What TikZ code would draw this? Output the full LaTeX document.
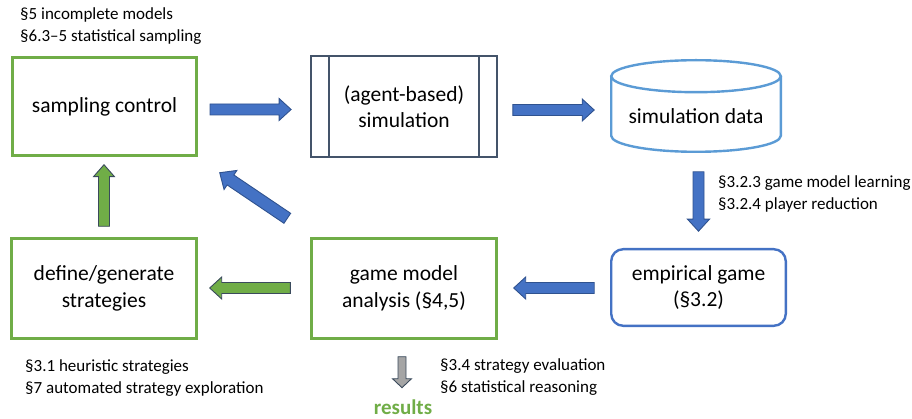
\documentclass[tikz,border=0pt]{standalone}
\usepackage{fontspec}
\setmainfont{Carlito}
\usetikzlibrary{calc}
\definecolor{bxgreen}{HTML}{70AD47}
\definecolor{bxslate}{HTML}{44546A}
\definecolor{bxlblue}{HTML}{5B9BD5}
\definecolor{bxblue}{HTML}{4472C4}
\definecolor{arblue}{HTML}{2F528F}
\definecolor{ardark}{HTML}{3A4A5C}
\definecolor{argrey}{HTML}{A5A5A5}
\newcommand\blockarr[6]{% style, from, to, shaft half, head half, head length
  \coordinate (ba-n) at ($(#3)!#6!(#2)$);
  \draw[#1] ($(#2)!#4!90:(#3)$) -- ($(ba-n)!#4!90:(#3)$) -- ($(ba-n)!#5!90:(#3)$) -- (#3)
    -- ($(ba-n)!#5!-90:(#3)$) -- ($(ba-n)!#4!-90:(#3)$) -- ($(#2)!#4!-90:(#3)$) -- cycle;
}
\tikzset{
  mainfont/.style={font=\fontsize{21.5}{26.5}\selectfont},
  smallfont/.style={font=\fontsize{17}{22}\selectfont},
  gbox/.style={draw=bxgreen, line width=2.6pt, outer sep=0pt, inner sep=0pt,
    minimum width=185.4pt, minimum height=100.4pt, align=center, mainfont},
  simbox/.style={draw=bxslate, line width=2.2pt, outer sep=0pt, inner sep=0pt,
    minimum width=185.8pt, minimum height=100.8pt, align=center, mainfont},
  empbox/.style={draw=bxblue, line width=2.4pt, outer sep=0pt, inner sep=0pt,
    rounded corners=12pt, minimum width=174.6pt, minimum height=76.6pt, align=center, mainfont},
  cylline/.style={draw=bxlblue, line width=2.4pt},
  lbl/.style={smallfont, inner sep=0pt, anchor=base west, align=left},
  barblue/.style={fill=bxblue, draw=arblue, line width=0.9pt, line join=miter},
  bargreen/.style={fill=bxgreen, draw=ardark, line width=0.9pt, line join=miter},
  bargrey/.style={fill=argrey, draw=ardark, line width=0.9pt, line join=miter},
}
\begin{document}
\begin{tikzpicture}[x=1pt, y=-1pt]
\useasboundingbox (0,0) rectangle (912,419);

% nodes
\node[gbox, minimum width=184.4pt, minimum height=98.4pt] (sc) at (104.5,106.5) {sampling control};
\node[simbox] (sim) at (404,106.5) {(agent-based)\\simulation};
\draw[bxslate, line width=2.2pt] ($(sim.north west)+(18,0)$) -- ($(sim.south west)+(18,0)$);
\draw[bxslate, line width=2.2pt] ($(sim.north east)+(-18,0)$) -- ($(sim.south east)+(-18,0)$);

\node[minimum width=169.6pt, minimum height=91.6pt, inner sep=0pt, outer sep=0pt] (data) at (696,106) {};
\draw[cylline] ($(data.north)+(0,16)$) ellipse [x radius=84.8, y radius=16];
\draw[cylline] ($(data.north west)+(0,16)$) -- ($(data.south west)+(0,-16)$)
  arc[start angle=180, end angle=0, x radius=84.8, y radius=16]
  -- ($(data.north east)+(0,16)$);
\node[mainfont, inner sep=0pt] (datatxt) at ($(data.center)+(0,10)$) {simulation data};

\node[empbox] (emp) at (698.5,287.5) {empirical game\\(§3.2)};
\node[gbox] (ana) at (404,288.5) {game model\\analysis (§4,5)};
\node[gbox] (def) at (104,288.5) {define/generate\\strategies};

\node[font=\fontsize{21}{25}\selectfont\bfseries, text=bxgreen, inner sep=0pt, anchor=base] (res) at (403,414) {results};

% labels (anchor on baseline of last line)
\node[lbl] (l1) at (20,42) {§5 incomplete models\\§6.3–5 statistical sampling};
\node[lbl] (l2) at (718,210) {§3.2.3 game model learning\\§3.2.4 player reduction};
\node[lbl] (l3) at (25,393) {§3.1 heuristic strategies\\§7 automated strategy exploration};
\node[lbl] (l4) at (440,392) {§3.4 strategy evaluation\\§6 statistical reasoning};

% block arrows
\blockarr{barblue}{$(sc.east)+(13.3,3)$}{$(sim.west)+(-20,3)$}{5.5pt}{11pt}{12pt}
\blockarr{barblue}{$(sim.east)+(16,3.5)$}{$(data.west)+(-17,4)$}{5.5pt}{11pt}{12pt}
\blockarr{barblue}{$(data.south)+(2.5,20)$}{$(emp.north)+(0,-18)$}{5.5pt}{11pt}{12pt}
\blockarr{barblue}{$(emp.west)+(-17,0.5)$}{$(ana.east)+(17,-0.5)$}{5.5pt}{11pt}{12pt}
\blockarr{bargreen}{$(ana.west)+(-21,-0.5)$}{$(def.east)+(13,-0.5)$}{5.5pt}{11pt}{12pt}
\blockarr{bargreen}{$(def.north)+(0,-12)$}{$(sc.south)+(-0.5,9)$}{5.5pt}{10.5pt}{12pt}
\blockarr{barblue}{$(ana.north west)+(-24,-20)$}{$(sc.south east)+(23,17)$}{6pt}{11.5pt}{13pt}
\blockarr{bargrey}{$(ana.south)+(-2,18)$}{$(ana.south)+(-2,49)$}{4pt}{9.5pt}{9pt}
\end{tikzpicture}
\end{document}
